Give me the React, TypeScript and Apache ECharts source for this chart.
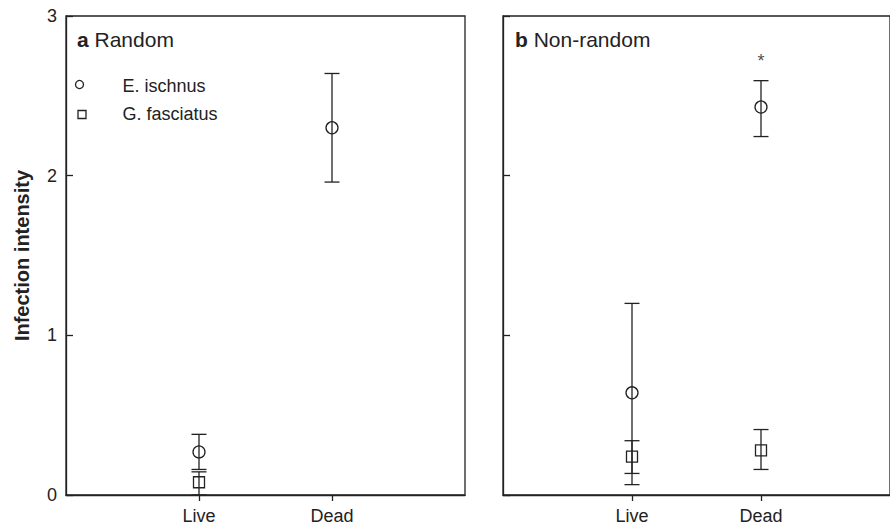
import React, { useEffect, useRef } from "react";
import * as echarts from "echarts";

// ---- data ----
const categories = ["Live", "Dead"]; // plotted at x = 1, 2
const panelTitles = [
  { letter: "a", text: "Random" },
  { letter: "b", text: "Non-random" },
];
const seriesNames = ["E. ischnus", "G. fasciatus"];
const yTicks = [0, 1, 2, 3];

// Panel a (Random)
const ischnusRandomMean = [0.27, 2.3];
const ischnusRandomLow = [0.16, 1.96];
const ischnusRandomHigh = [0.38, 2.64];
const fasciatusRandomMean = [0.08, null];
const fasciatusRandomLow = [0.0, null];
const fasciatusRandomHigh = [0.145, null];

// Panel b (Non-random)
const ischnusNonRandomMean = [0.64, 2.43];
const ischnusNonRandomLow = [0.065, 2.245];
const ischnusNonRandomHigh = [1.2, 2.595];
const fasciatusNonRandomMean = [0.24, 0.28];
const fasciatusNonRandomLow = [0.135, 0.16];
const fasciatusNonRandomHigh = [0.34, 0.41];

// significance marks: panel index, category, y value
const sigMarks = [{ panel: 1, category: "Dead", y: 2.72, text: "*" }];

const FONT = "'Liberation Sans', Arial, Helvetica, sans-serif";
const INK = "#222";
const LW = 1.3;

function points(means: (number | null)[]) {
  const out: any[] = [];
  means.forEach((m, i) => {
    if (m !== null) out.push([i + 1, m]);
  });
  return out;
}
function bars(lows: (number | null)[], highs: (number | null)[]) {
  const out: any[] = [];
  lows.forEach((l, i) => {
    const h = highs[i];
    if (l !== null && h !== null) out.push([i + 1, l, h]);
  });
  return out;
}

const errorRender = (params: any, api: any) => {
  const x = api.value(0);
  const lo = api.coord([x, api.value(1)]);
  const hi = api.coord([x, api.value(2)]);
  const hw = 7.5;
  const style = { stroke: INK, lineWidth: LW };
  return {
    type: "group",
    children: [
      { type: "line", shape: { x1: lo[0], y1: lo[1], x2: hi[0], y2: hi[1] }, style },
      { type: "line", shape: { x1: hi[0] - hw, y1: hi[1], x2: hi[0] + hw, y2: hi[1] }, style },
      { type: "line", shape: { x1: lo[0] - hw, y1: lo[1], x2: lo[0] + hw, y2: lo[1] }, style },
    ],
  };
};

export default function App() {
  const ref = useRef<HTMLDivElement>(null);
  useEffect(() => {
    if (!ref.current) return;
    const chart = echarts.init(ref.current, undefined, { renderer: "svg" });

    const grids = [
      { left: 66, top: 16, width: 399, height: 479 },
      { left: 503, top: 16, width: 399, height: 479 },
    ].map((g) => ({ ...g, show: true, borderColor: INK, borderWidth: LW, backgroundColor: "transparent" }));

    const xAxes = [0, 1].map((gi) => ({
      gridIndex: gi,
      type: "value",
      min: 0,
      max: 3,
      interval: 1,
      splitLine: { show: false },
      axisLine: { show: true, lineStyle: { color: INK, width: LW } },
      axisTick: { show: true, inside: false, length: 6, customValues: [1, 2], lineStyle: { color: INK, width: LW } },
      axisLabel: {
        show: true,
        customValues: [1, 2],
        margin: 12,
        fontSize: 18,
        color: INK,
        fontFamily: FONT,
        formatter: (v: number) => categories[v - 1] ?? "",
      },
    }));

    const yAxes = [0, 1].map((gi) => ({
      gridIndex: gi,
      type: "value",
      min: yTicks[0],
      max: yTicks[yTicks.length - 1],
      interval: 1,
      splitLine: { show: false },
      axisLine: { show: true, lineStyle: { color: INK, width: LW } },
      axisTick: { show: true, inside: true, length: 7, lineStyle: { color: INK, width: LW } },
      axisLabel: {
        show: gi === 0,
        margin: 9,
        fontSize: 18,
        color: INK,
        fontFamily: FONT,
      },
      name: gi === 0 ? "Infection intensity" : "",
      nameLocation: "middle",
      nameGap: 34,
      nameTextStyle: { fontSize: 20, fontWeight: "bold", color: INK, fontFamily: FONT },
    }));

    const panels = [
      {
        ischnus: [ischnusRandomMean, ischnusRandomLow, ischnusRandomHigh],
        fasciatus: [fasciatusRandomMean, fasciatusRandomLow, fasciatusRandomHigh],
      },
      {
        ischnus: [ischnusNonRandomMean, ischnusNonRandomLow, ischnusNonRandomHigh],
        fasciatus: [fasciatusNonRandomMean, fasciatusNonRandomLow, fasciatusNonRandomHigh],
      },
    ];

    const series: any[] = [];
    panels.forEach((p, gi) => {
      [p.ischnus, p.fasciatus].forEach((arr, si) => {
        series.push({
          type: "custom",
          name: seriesNames[si] + " error",
          xAxisIndex: gi,
          yAxisIndex: gi,
          renderItem: errorRender,
          data: bars(arr[1] as any, arr[2] as any),
          clip: false,
          z: 2,
        });
        series.push({
          type: "scatter",
          name: seriesNames[si],
          xAxisIndex: gi,
          yAxisIndex: gi,
          symbol: si === 0 ? "circle" : "rect",
          symbolSize: si === 0 ? 12 : 11,
          itemStyle: { color: "transparent", borderColor: INK, borderWidth: LW, opacity: 1 },
          data: points(arr[0] as any),
          z: 3,
        });
      });
    });

    sigMarks.forEach((m) => {
      series.push({
        type: "scatter",
        name: "significance",
        xAxisIndex: m.panel,
        yAxisIndex: m.panel,
        symbolSize: 0,
        data: [[categories.indexOf(m.category) + 1, m.y]],
        label: {
          show: true,
          position: "inside",
          formatter: m.text,
          fontSize: 18,
          color: INK,
          fontFamily: FONT,
        },
      });
    });

    const titleGraphics = panelTitles.map((t, i) => ({
      type: "text",
      left: i === 0 ? 77 : 515,
      top: 29,
      style: {
        text: `{b|${t.letter}} {n|${t.text}}`,
        rich: {
          b: { fontSize: 21, fontWeight: "bold", fill: INK, fontFamily: FONT },
          n: { fontSize: 21, fill: INK, fontFamily: FONT },
        },
        fill: INK,
        font: `21px ${FONT}`,
      },
    }));

    const legendGraphics: any[] = [
      { type: "circle", shape: { cx: 79.5, cy: 84.5, r: 4 }, style: { fill: "none", stroke: INK, lineWidth: LW } },
      { type: "rect", shape: { x: 78, y: 110.5, width: 8, height: 8 }, style: { fill: "none", stroke: INK, lineWidth: LW } },
      {
        type: "text",
        x: 122.5,
        y: 85.5,
        style: { text: seriesNames[0], fontSize: 18, fontFamily: FONT, fill: INK, verticalAlign: "middle" },
      },
      {
        type: "text",
        x: 122.5,
        y: 114,
        style: { text: seriesNames[1], fontSize: 18, fontFamily: FONT, fill: INK, verticalAlign: "middle" },
      },
    ];

    chart.setOption({
      animation: false,
      backgroundColor: "#fff",
      textStyle: { fontFamily: FONT },
      grid: grids,
      xAxis: xAxes,
      yAxis: yAxes,
      series,
      graphic: [...titleGraphics, ...legendGraphics],
    });
    return () => chart.dispose();
  }, []);
  return (
    <div
      ref={ref}
      style={{ position: "absolute", left: 0, top: 0, width: 890, height: 525, background: "#fff" }}
    />
  );
}
